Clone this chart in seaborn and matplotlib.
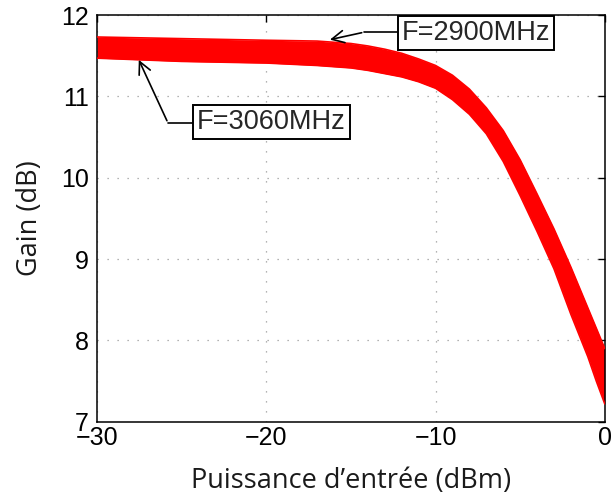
import numpy as np
import pandas as pd
import seaborn as sns
import matplotlib
matplotlib.use("Agg")
import matplotlib.pyplot as plt

# input power (dBm) and gain envelope of the band of curves (dB)
p_in = [-30, -25, -20, -17, -15, -14, -13, -12, -11, -10, -9, -8, -7, -6, -5,
        -4, -3, -2, -1, -0.5, 0]
gain_2900 = [11.73, 11.71, 11.69, 11.68, 11.65, 11.62, 11.58, 11.53, 11.46, 11.38,
             11.26, 11.09, 10.86, 10.58, 10.22, 9.80, 9.37, 8.90, 8.40, 8.15, 7.90]
gain_3060 = [11.47, 11.43, 11.41, 11.38, 11.35, 11.32, 11.28, 11.24, 11.18, 11.10,
             10.96, 10.78, 10.54, 10.20, 9.78, 9.34, 8.88, 8.32, 7.80, 7.50, 7.22]

x_ticks = [-30, -20, -10, 0]
y_ticks = [7, 8, 9, 10, 11, 12]

sns.set_style("white")
plt.rcParams['font.family'] = ['Liberation Sans', 'DejaVu Sans']

df = pd.DataFrame({
    "p": p_in * 2,
    "gain": gain_2900 + gain_3060,
    "freq": ["2900"] * len(p_in) + ["3060"] * len(p_in),
})

fig = plt.figure(figsize=(6.14, 5.01), dpi=100)
ax = fig.add_axes([0.158, 0.158, 0.827, 0.812])

ax.fill_between(p_in, gain_3060, gain_2900, color="#ff0000", lw=0, zorder=2)
sns.lineplot(data=df, x="p", y="gain", units="freq", estimator=None,
             color="#ff0000", lw=1.2, ax=ax, zorder=3, legend=False)

ax.set_xlim(-30, 0)
ax.set_ylim(7, 12)
ax.set_xticks(x_ticks)
ax.set_yticks(y_ticks)
ax.set_xticklabels(["\u221230", "\u221220", "\u221210", "0"])
ax.grid(True, color="#9a9a9a", linestyle=(0, (1, 7)), lw=0.9)
ax.set_axisbelow(True)
for s in ax.spines.values():
    s.set_color("black")
    s.set_linewidth(1.1)
ax.tick_params(direction="in", length=5, width=1, top=True, right=True,
               labelsize=18, colors="black", pad=3)
ax.tick_params(axis="y", pad=6)

lab_font = ["Open Sans", "DejaVu Sans"]
ax.set_xlabel("Puissance d\u2019entrée (dBm)", fontsize=19.5, family=lab_font,
              color="#1a1a1a", labelpad=12)
ax.set_ylabel("Gain (dB)", fontsize=19.5, family=lab_font, color="#1a1a1a",
              labelpad=12)

box = dict(boxstyle="square,pad=0.15", fc="white", ec="black", lw=1.4)
arr = dict(arrowstyle="->", color="black", lw=1.2, mutation_scale=22)

# F=2900MHz annotation
ax.annotate("", xy=(-16.4, 11.69), xytext=(-14.2, 11.79), arrowprops=arr)
ax.plot([-14.2, -12.3], [11.79, 11.79], color="black", lw=1.2)
ax.text(-7.6, 11.78, "F=2900MHz", fontsize=19.5, ha="center", va="center",
        bbox=box, zorder=5)

# F=3060MHz annotation
ax.annotate("", xy=(-27.6, 11.48), xytext=(-25.8, 10.67), arrowprops=arr)
ax.plot([-25.8, -24.2], [10.67, 10.67], color="black", lw=1.2)
ax.text(-19.7, 10.69, "F=3060MHz", fontsize=19.5, ha="center", va="center",
        bbox=box, zorder=5)

fig.savefig("out.png", dpi=100)
